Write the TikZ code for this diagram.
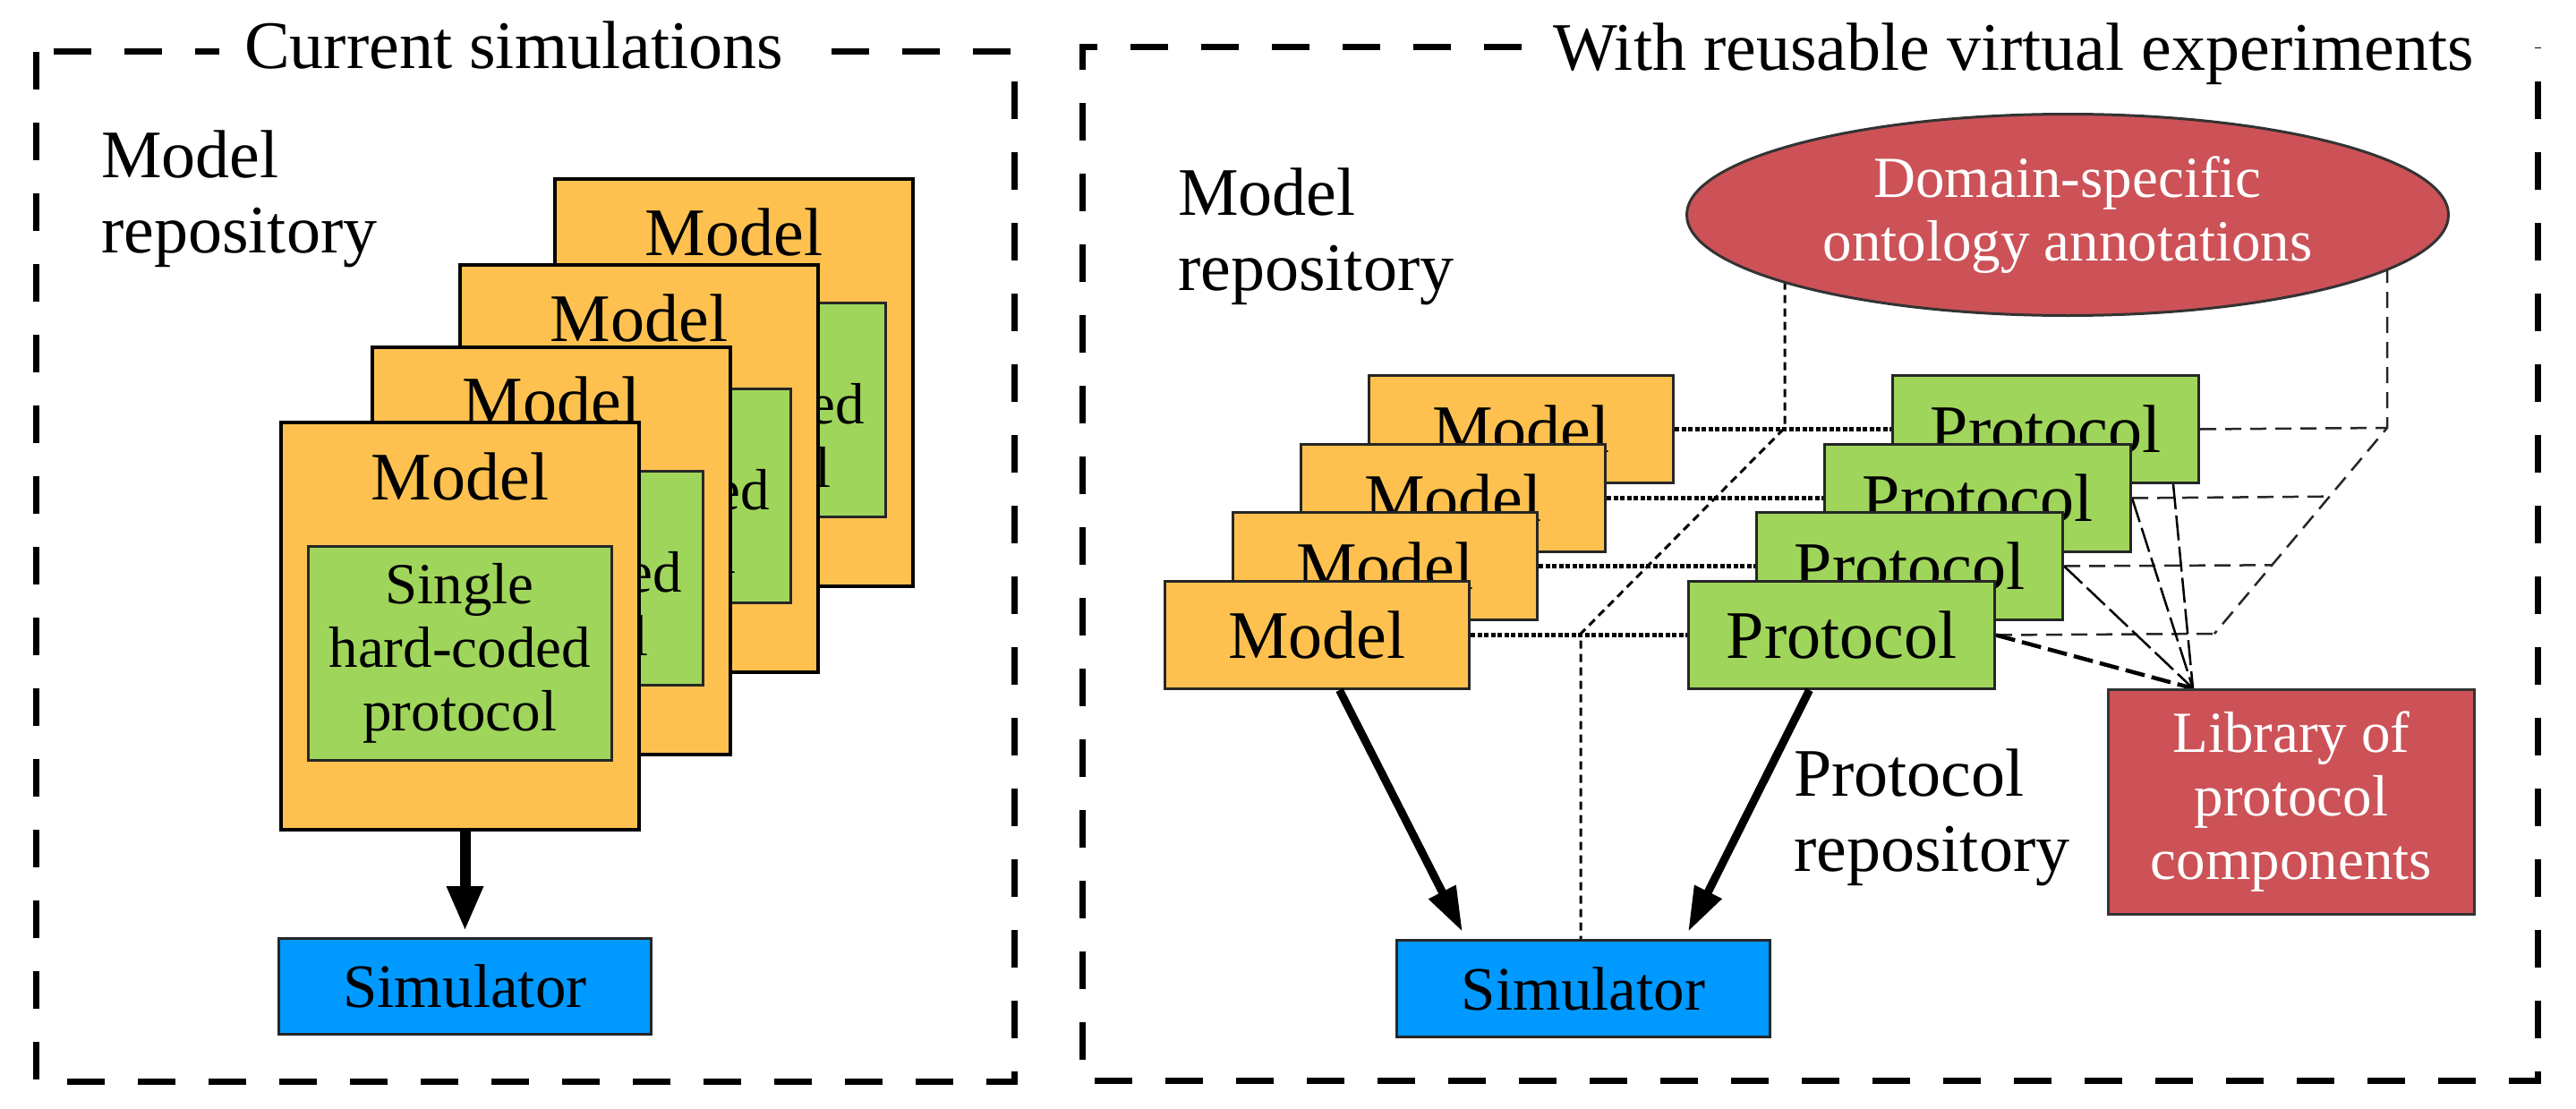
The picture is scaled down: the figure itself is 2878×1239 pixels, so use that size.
\documentclass[tikz,border=0pt]{standalone}
\usepackage{fontspec}
\setmainfont{Liberation Serif}
\usetikzlibrary{shapes.geometric,arrows.meta,calc}
\definecolor{morange}{HTML}{FEC150}
\definecolor{mgreen}{HTML}{9FD55B}
\definecolor{mblue}{HTML}{0099FF}
\definecolor{mred}{HTML}{CC5257}
\newcommand{\fbig}{\fontsize{76pt}{84pt}\selectfont}
\newcommand{\fmid}{\fontsize{65pt}{71pt}\selectfont}
\newcommand{\fsim}{\fontsize{69pt}{76pt}\selectfont}
\pgfdeclarelayer{bg}
\pgfsetlayers{bg,main}
\begin{document}
\begin{tikzpicture}[x=1pt,y=-1pt,
  border/.style={line width=7pt, dash pattern=on 42pt off 37pt},
  paneltitle/.style={font=\fbig, fill=white, inner xsep=28pt, inner ysep=12pt, anchor=base west},
  label/.style={font=\fbig, align=left, anchor=base west, inner sep=0pt},
  card/.style={draw=black, fill=morange, line width=4pt, minimum width=400pt, minimum height=455pt, inner sep=0pt, anchor=north west},
  hcbox/.style={draw=black!85, fill=mgreen, line width=2.5pt, minimum width=339pt, minimum height=239pt, inner sep=0pt, anchor=north west, font=\fmid, align=center},
  simbox/.style={draw=black!85, fill=mblue, line width=3pt, inner sep=0pt, anchor=north west, font=\fsim},
  mbox/.style={draw=black!85, fill=morange, line width=3pt, minimum width=340pt, minimum height=120pt, inner sep=0pt, anchor=north west, font=\fbig},
  pbox/.style={draw=black!85, fill=mgreen, line width=3pt, minimum width=342pt, minimum height=120pt, inner sep=0pt, anchor=north west, font=\fbig},
  redshape/.style={draw=black!80, fill=mred, line width=3pt, text=white, font=\fmid, align=center, inner sep=0pt},
  dotline/.style={line width=5.5pt, dash pattern=on 5pt off 2.5pt},
  finedash/.style={line width=3pt, dash pattern=on 9pt off 6pt},
  sidedash/.style={line width=2.5pt, black!85, dash pattern=on 18pt off 10pt},
  libdash/.style={line width=2.5pt, dash pattern=on 28pt off 7pt},
  bigarrow/.style={line width=12pt, -{Triangle[length=50pt,width=38pt]}},
  arr/.style={line width=9pt, -{Triangle[length=50pt,width=32pt]}}
]
\useasboundingbox (0,0) rectangle (2878,1239);

% ---------------- left panel ----------------
\draw[border] (40,58) rectangle (1133,1208);
\node[paneltitle] (t1) at (245,77) {Current simulations};
\node[label] (mr1) at (113,282) {Model\\repository};

\foreach \i/\x/\y in {4/618/198,3/512/294,2/414/386,1/312/470}{
  \node[card] (card\i) at (\x,\y) {};
  \node[hcbox] (hc\i) at ([shift={(31pt,-139pt)}]card\i.north west) {Single\\hard-coded\\protocol};
  \node[font=\fbig] (cm\i) at ([yshift=-62pt]card\i.north) {Model};
}
\node[simbox, minimum width=416pt, minimum height=107pt] (simL) at (310,1047) {Simulator};
\draw[bigarrow, shorten >=7pt] (card1.south -| simL.north) -- (simL.north);

% ---------------- right panel ----------------
\draw[border] (1700,53) -- (1209,53) -- (1209,1207) -- (2835,1207) -- (2835,53);
\node[paneltitle] (t2) at (1707,78) {With reusable virtual experiments};
\node[label] (mr2) at (1316,324) {Model\\repository};

\foreach \i/\x/\y in {4/1528/418,3/1452/495,2/1376/571,1/1300/648}{
  \node[mbox] (M\i) at (\x,\y) {Model};
}
\foreach \i/\x/\y in {4/2113/418,3/2037/495,2/1961/571,1/1885/648}{
  \node[pbox] (P\i) at (\x,\y) {Protocol};
}

\node[ellipse, redshape, minimum width=851pt, minimum height=225pt] (ell) at (2310,240) {Domain-specific\\ontology annotations};
\node[redshape, rectangle, minimum width=409pt, minimum height=251pt, anchor=north west] (lib) at (2354,769) {Library of\\protocol\\components};
\node[simbox, minimum width=417pt, minimum height=108pt] (simR) at (1559,1049) {Simulator};
\node[label] (pr) at (2004,973) {Protocol\\repository};

\coordinate (tl) at (1994,478);
\coordinate (fl) at (1766,708);
\coordinate (tr) at (2667,478);
\coordinate (fr) at (2474,708);
\coordinate (cv) at ([xshift=96pt]lib.north west);

\begin{pgfonlayer}{bg}
  \foreach \i in {1,2,3,4}{
    \draw[dotline] (M\i.east) -- (P\i.west);
  }
  \draw[finedash] (tl |- ell.193.2) -- (tl) -- (fl) -- (fl |- simR.north);
  \draw[sidedash] (tr |- ell.-9.8) -- (tr) -- (fr);
  \draw[sidedash] (P4.east) -- (tr);
  \draw[sidedash] (P3.east) -- ($(tr)!1/3!(fr)$);
  \draw[sidedash] (P2.east) -- ($(tr)!2/3!(fr)$);
  \draw[sidedash] (P1.east) -- (fr);
  \draw[libdash] ([xshift=-30pt]P4.south east) -- (cv);
  \draw[libdash] (P3.east) -- (cv);
  \draw[libdash] (P2.east) -- (cv);
  \draw[libdash, line width=4.5pt, dash pattern=on 22pt off 8pt] (P1.east) -- (cv);
\end{pgfonlayer}

\draw[arr, shorten >=9pt] ([xshift=25pt]M1.south) -- ([xshift=-131pt]simR.north);
\draw[arr, shorten >=9pt] ([xshift=-36pt]P1.south) -- ([xshift=113pt]simR.north);
\end{tikzpicture}
\end{document}
